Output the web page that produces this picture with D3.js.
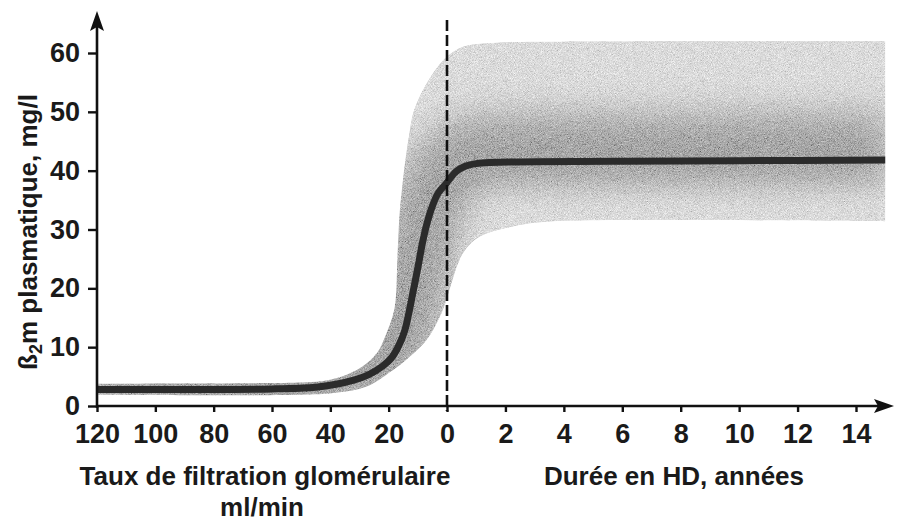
<!DOCTYPE html>
<html>
<head>
<meta charset="utf-8">
<script src="https://d3js.org/d3.v7.min.js"></script>
<style>
  body { margin: 0; background: #fff; }
  text { font-family: "Liberation Sans", Arial, Helvetica, sans-serif; font-weight: bold; fill: #1a1a1a; }
</style>
</head>
<body>
<div id="chart"></div>
<script>
// left part: glomerular filtration rate (ml/min), right part: years on HD
var gfrTicks = [120, 100, 80, 60, 40, 20, 0];
var hdTicks = [0, 2, 4, 6, 8, 10, 12, 14];
var yTicks = [0, 10, 20, 30, 40, 50, 60];

// mean curve
var gfrMean = [[120, 2.8], [90, 2.8], [60, 2.9], [45, 3.2], [38, 3.7], [32, 4.4], [27, 5.3], [22, 6.8], [19, 8.2],
  [16.5, 10.3], [14.5, 12.8], [13, 16], [11.6, 19.5], [10, 23.5], [8.5, 27.5], [7, 30.8], [5, 34], [3, 36.2], [1, 37.4], [0, 38]];
var hdMean = [[0, 38], [0.3, 39.8], [0.6, 40.7], [1, 41.2], [1.5, 41.4], [3, 41.5], [6, 41.6], [10, 41.7], [15, 41.8]];

// upper edge of the spread
var gfrUpper = [[120, 3.8], [60, 3.9], [50, 4.0], [43, 4.2], [36, 5.0], [29, 6.7], [24, 9], [20.7, 12.4], [18.5, 15.5],
  [17.6, 18], [17.0, 25], [16.2, 33], [15.2, 38], [14.4, 41.3], [13, 46], [11.6, 49.8], [9, 53], [5.8, 55.8], [3, 57.8], [0, 59.4]];
var hdUpper = [[0.56, 61.1], [1.5, 61.7], [3, 61.9], [15, 62]];

// lower edge of the spread
var gfrLower = [[120, 1.9], [50, 1.9], [39, 2.2], [27.5, 3.3], [18.5, 6.1], [12.7, 8.4], [7, 11.2], [2.4, 15.2], [0, 18.3]];
var hdLower = [[0.1, 20], [0.55, 26], [1.13, 28.8], [2.26, 30.5], [3.4, 31.3], [6, 31.6], [15, 31.4]];

var width = 909, height = 522;

var xGfr = d3.scaleLinear().domain([120, 0]).range([97, 447]);
var xHd = d3.scaleLinear().domain([0, 14]).range([447, 856]);
var y = d3.scaleLinear().domain([0, 60]).range([406, 53]);

var svg = d3.select("#chart").append("svg")
  .attr("width", width)
  .attr("height", height);

var defs = svg.append("defs");

// grain like the printed screen
var grain = defs.append("filter").attr("id", "grain")
  .attr("x", "-5%").attr("y", "-5%").attr("width", "110%").attr("height", "110%");
grain.append("feTurbulence").attr("type", "fractalNoise").attr("baseFrequency", 1.3)
  .attr("numOctaves", 2).attr("seed", 4).attr("result", "noise");
grain.append("feColorMatrix").attr("in", "noise").attr("type", "matrix")
  .attr("values", "0.33 0.33 0.33 0 0  0.33 0.33 0.33 0 0  0.33 0.33 0.33 0 0  0 0 0 0 1")
  .attr("result", "gray");
grain.append("feComposite").attr("in", "SourceGraphic").attr("in2", "gray")
  .attr("operator", "arithmetic").attr("k1", 0).attr("k2", 1).attr("k3", 1.1).attr("k4", -0.49)
  .attr("result", "mix");
grain.append("feComposite").attr("in", "mix").attr("in2", "SourceAlpha").attr("operator", "in");

var blur = defs.append("filter").attr("id", "soft")
  .attr("x", "-20%").attr("y", "-50%").attr("width", "140%").attr("height", "200%");
blur.append("feGaussianBlur").attr("stdDeviation", 16);

// pixel points for each part
function pts(gfr, hd) {
  return gfr.map(function(d) { return [xGfr(d[0]), y(d[1])]; })
    .concat(hd.map(function(d) { return [xHd(d[0]), y(d[1])]; }));
}
var meanPts = pts(gfrMean, hdMean.slice(1));
var upperPts = pts(gfrUpper, hdUpper);
var lowerPts = pts(gfrLower, hdLower);

var line = d3.line().curve(d3.curveCatmullRom.alpha(0.5));
var bandPath = line(upperPts) + "L" + line(lowerPts.slice().reverse()).slice(1) + "Z";

defs.append("clipPath").attr("id", "bandClip")
  .append("path").attr("d", bandPath);

var band = svg.append("g")
  .attr("clip-path", "url(#bandClip)")
  .append("g")
  .attr("filter", "url(#grain)");

band.append("path")
  .attr("d", bandPath)
  .attr("fill", "#d3d3d3");

// darker zone around the mean
band.append("path")
  .attr("d", line(meanPts))
  .attr("transform", "translate(0,-14)")
  .attr("fill", "none")
  .attr("stroke", "#777")
  .attr("stroke-width", 70)
  .attr("opacity", 0.55)
  .attr("filter", "url(#soft)");

band.append("path")
  .attr("d", line(meanPts))
  .attr("fill", "none")
  .attr("stroke", "#888")
  .attr("stroke-width", 30)
  .attr("opacity", 0.45)
  .attr("filter", "url(#soft)");

// mean curve
svg.append("path")
  .attr("d", line(meanPts))
  .attr("fill", "none")
  .attr("stroke", "#2b2b2b")
  .attr("stroke-width", 7)
  .attr("stroke-linecap", "butt");

// start of dialysis
svg.append("line")
  .attr("x1", xGfr(0)).attr("x2", xGfr(0))
  .attr("y1", 20).attr("y2", 411)
  .attr("stroke", "#111")
  .attr("stroke-width", 2.6)
  .attr("stroke-dasharray", "11,4");

// axes
var gx1 = svg.append("g")
  .attr("transform", "translate(0," + y(0) + ")")
  .call(d3.axisBottom(xGfr).tickValues(gfrTicks).tickSize(6).tickPadding(12));
var gx2 = svg.append("g")
  .attr("transform", "translate(0," + y(0) + ")")
  .call(d3.axisBottom(xHd).tickValues(hdTicks.slice(1)).tickSize(6).tickPadding(12));
var gy = svg.append("g")
  .attr("transform", "translate(" + xGfr(120) + ",0)")
  .call(d3.axisLeft(y).tickValues(yTicks).tickSize(9).tickPadding(8));

[gx1, gx2, gy].forEach(function(g) {
  g.select(".domain").remove();
  g.selectAll(".tick line").attr("stroke", "#111").attr("stroke-width", 2.4);
  g.selectAll(".tick text")
    .attr("font-family", "Liberation Sans, Arial, sans-serif")
    .attr("font-weight", "bold")
    .attr("font-size", 27)
    .attr("fill", "#1a1a1a");
});

// axis lines with arrow heads
svg.append("line")
  .attr("x1", xGfr(120)).attr("x2", xGfr(120))
  .attr("y1", y(0) + 2).attr("y2", 26)
  .attr("stroke", "#111").attr("stroke-width", 2.6);
svg.append("path")
  .attr("d", "M" + xGfr(120) + ",11 L" + (xGfr(120) - 7) + ",31 L" + xGfr(120) + ",27 L" + (xGfr(120) + 7) + ",31 Z")
  .attr("fill", "#111");

svg.append("line")
  .attr("x1", xGfr(120) - 1).attr("x2", 880)
  .attr("y1", y(0)).attr("y2", y(0))
  .attr("stroke", "#111").attr("stroke-width", 2.6);
svg.append("path")
  .attr("d", "M894," + y(0) + " L874," + (y(0) - 7) + " L878," + y(0) + " L874," + (y(0) + 7) + " Z")
  .attr("fill", "#111");

// axis titles
svg.append("text")
  .attr("x", 265).attr("y", 485)
  .attr("text-anchor", "middle")
  .attr("font-size", 26)
  .text("Taux de filtration glomérulaire");
svg.append("text")
  .attr("x", 262).attr("y", 516)
  .attr("text-anchor", "middle")
  .attr("font-size", 26)
  .text("ml/min");
svg.append("text")
  .attr("x", 674).attr("y", 485)
  .attr("text-anchor", "middle")
  .attr("font-size", 26)
  .text("Durée en HD, années");

var yl = svg.append("text")
  .attr("transform", "translate(37,232) rotate(-90)")
  .attr("text-anchor", "middle")
  .attr("font-size", 26);
yl.append("tspan").text("ß");
yl.append("tspan").attr("font-size", 18).attr("dy", 5).text("2");
yl.append("tspan").attr("dy", -5).text("m plasmatique, mg/l");
</script>
</body>
</html>
